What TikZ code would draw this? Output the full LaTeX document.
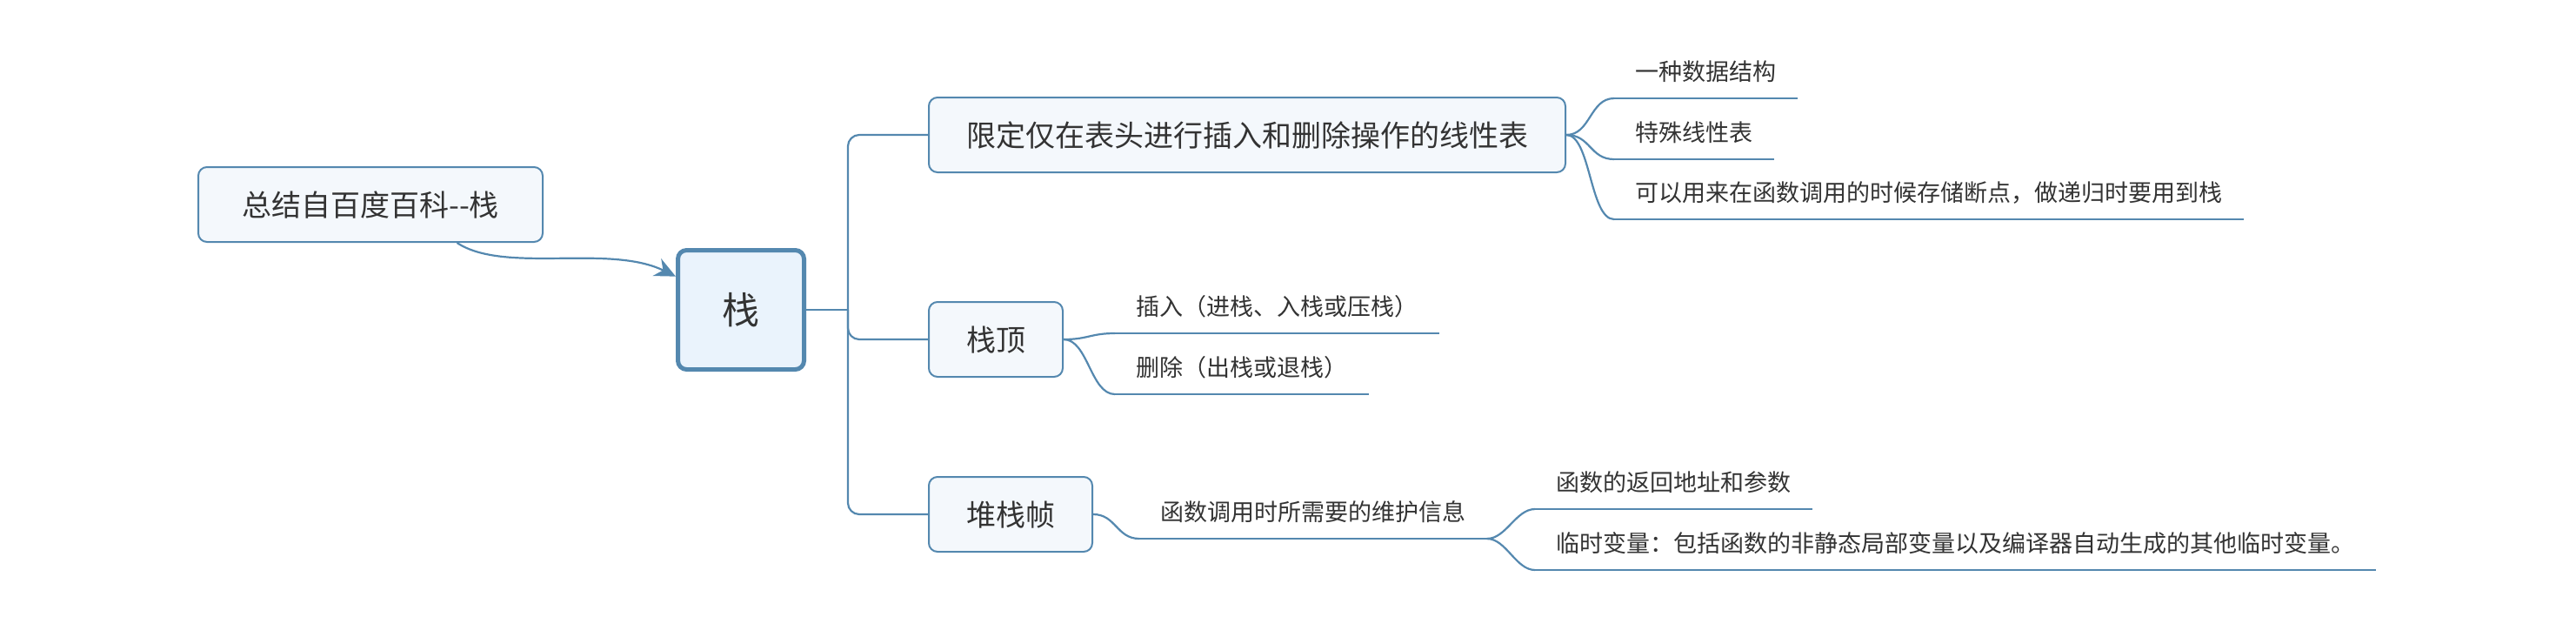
\documentclass[tikz,border=0pt]{standalone}
\usepackage{fontspec}
\setmainfont{Noto Sans CJK SC}
\usetikzlibrary{arrows.meta,calc}

\newlength{\du}
\setlength{\du}{0.5pt}

\definecolor{mapline}{RGB}{84,136,175}
\definecolor{topicfill}{RGB}{244,248,252}
\definecolor{rootfill}{RGB}{234,243,252}
\definecolor{maptext}{RGB}{51,51,51}

\tikzset{
  topic/.style={draw=mapline, fill=topicfill, line width=2\du, rounded corners=10\du,
    text=maptext, font=\fontsize{17}{20}\selectfont, inner xsep=43\du, inner ysep=0pt,
    text height=30\du, text depth=4\du, minimum height=86\du},
  roottopic/.style={topic, fill=rootfill, line width=5\du, font=\fontsize{21.5}{25}\selectfont,
    text height=38\du, text depth=5\du, inner xsep=0pt, minimum width=145\du, minimum height=137\du},
  leaf/.style={text=maptext, font=\fontsize{13.5}{16}\selectfont, inner xsep=24\du, inner ysep=17\du,
    text height=24\du, text depth=3\du, anchor=south west},
  branch/.style={draw=mapline, line width=2.2\du},
}

\begin{document}
\begin{tikzpicture}
\pgftransformxscale{1.000000}
\pgftransformyscale{-1.000000}
\useasboundingbox (0\du,0\du) rectangle (2962\du,708\du);
% topics
\node[topic, minimum width=396\du] (summary) at (426\du,235\du){总结自百度百科-{}-栈};
\node[roottopic] (stack) at (852\du,356\du){栈};
\node[topic, anchor=west] (lintable) at (1067\du,155\du){限定仅在表头进行插入和删除操作的线性表};
\node[topic, anchor=west] (top) at (1067\du,390\du){栈顶};
\node[topic, anchor=west] (frame) at (1067\du,591\du){堆栈帧};
% leaves
\node[leaf] (struct) at (1856\du,113\du){一种数据结构};
\node[leaf] (special) at (1856\du,183\du){特殊线性表};
\node[leaf] (breakpt) at (1856\du,252\du){可以用来在函数调用的时候存储断点，做递归时要用到栈};
\node[leaf] (push) at (1282\du,383\du){插入（进栈、入栈或压栈）};
\node[leaf] (pop) at (1282\du,453\du){删除（出栈或退栈）};
\node[leaf] (info) at (1310\du,619\du){函数调用时所需要的维护信息};
\node[leaf] (retaddr) at (1765\du,585\du){函数的返回地址和参数};
\node[leaf] (tempvar) at (1765\du,655\du){临时变量：包括函数的非静态局部变量以及编译器自动生成的其他临时变量。};
% underlines
\foreach \leafname in {struct,special,breakpt,push,pop,info,retaddr,tempvar}
  \draw[branch] (\leafname.south west) -- (\leafname.south east);
% trunk
\coordinate (hub) at (975\du,356\du);
\draw[branch] (stack.east) -- (hub);
\draw[branch, rounded corners=13\du] (lintable.west) -| (hub) |- (frame.west);
\draw[branch, rounded corners=13\du] (hub) |- (top.west);
% curves to leaves
\foreach \leafname in {struct,special,breakpt}
  \draw[branch] (lintable.east) .. controls +(28\du,0) and +(-28\du,0) .. (\leafname.south west);
\foreach \leafname in {push,pop}
  \draw[branch] (top.east) .. controls +(28\du,0) and +(-28\du,0) .. (\leafname.south west);
\draw[branch] (frame.east) .. controls +(26\du,0) and +(-26\du,0) .. (info.south west);
\foreach \leafname in {retaddr,tempvar}
  \draw[branch] (info.south east) .. controls +(22\du,0) and +(-22\du,0) .. (\leafname.south west);
% summary arrow
\draw[branch, -{Stealth[length=12pt,width=11pt]}] ($(summary.south west)!0.75!(summary.south east)$)
  .. controls (580\du,315\du) and (700\du,280\du) .. ($(stack.north west)!0.23!(stack.south west)$);
\end{tikzpicture}
\end{document}
